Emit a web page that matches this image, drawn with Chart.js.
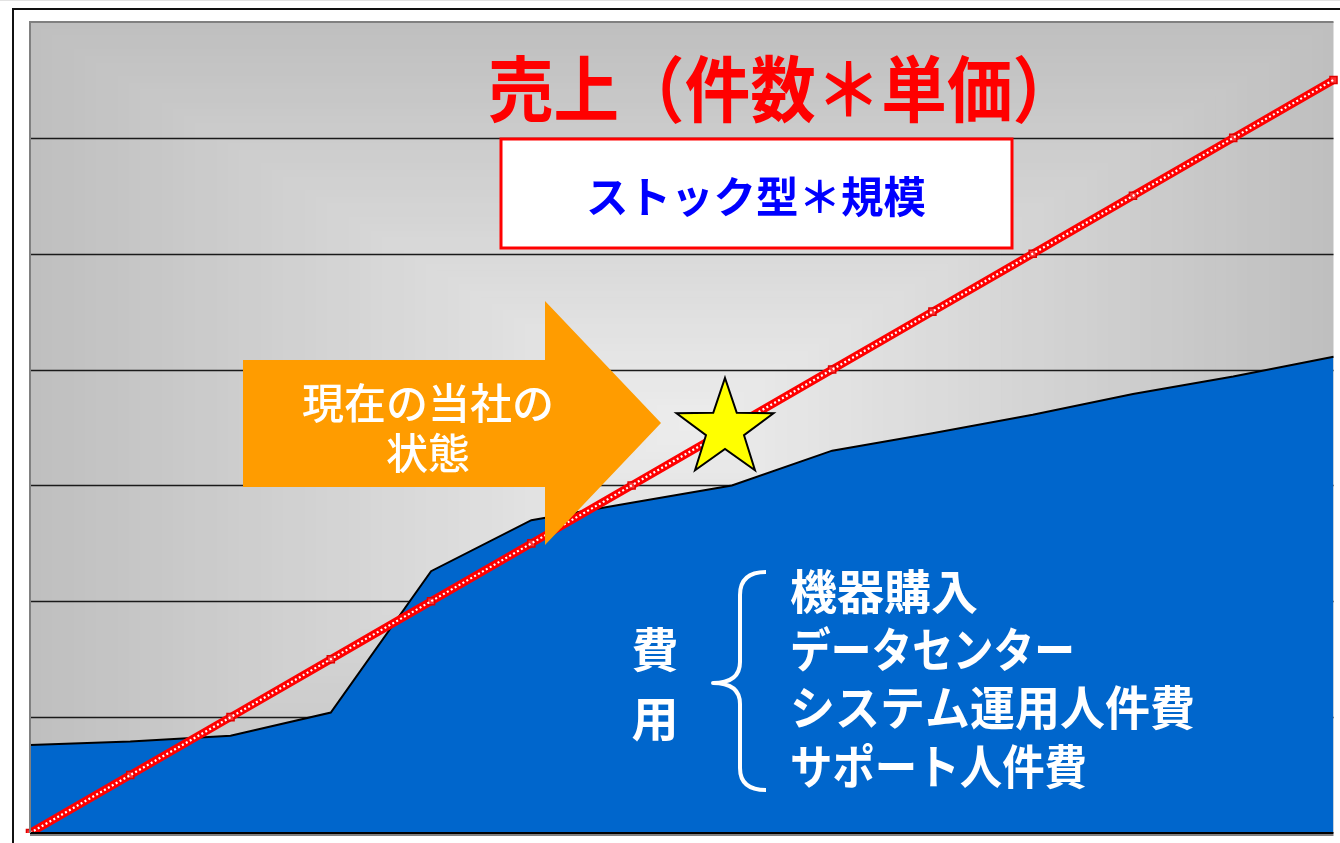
<!DOCTYPE html>
<html><head><meta charset="utf-8">
<script src="https://cdn.jsdelivr.net/npm/chart.js@4/dist/chart.umd.min.js"></script>
<style>html,body{margin:0;padding:0;background:#fff;overflow:hidden}canvas{display:block}</style>
</head><body>
<canvas id="c" width="1340" height="843"></canvas>
<script>
const categories = ['1','2','3','4','5','6','7','8','9','10','11','12','13','14'];
const salesValues = [0, 0.5, 1.0, 1.5, 2.0, 2.5, 3.0, 3.5, 4.0, 4.5, 5.0, 5.5, 6.0, 6.5];
const costValues = [0.76, 0.79, 0.84, 1.04, 2.26, 2.70, 2.85, 3.00, 3.30, 3.45, 3.61, 3.79, 3.94, 4.11];
const yTicks = [0, 1, 2, 3, 4, 5, 6, 7];
const titleText = '売上（件数＊単価）';
const boxText = 'ストック型＊規模';
const arrowLines = ['現在の当社の', '状態'];
const costLabel = ['費', '用'];
const costItems = ['機器購入', 'データセンター', 'システム運用人件費', 'サポート人件費'];

const FONT = '"Noto Sans CJK JP", "Noto Sans", sans-serif';

const bgPlugin = {
  id: 'bg',
  beforeDraw(chart) {
    const { ctx, chartArea: a, width, height } = chart;
    ctx.save();
    ctx.fillStyle = '#ffffff';
    ctx.fillRect(0, 0, width, height);
    ctx.fillStyle = '#e2e2e2';
    ctx.fillRect(0, 0, width, 1);
    const cx = 690, cy = 425;
    const inner = [237, 237, 237], outer = [191, 191, 191];
    const N = 60;
    for (let i = N; i >= 1; i--) {
      const t = i / N;
      const c = inner.map((v, k) => Math.round(v + (outer[k] - v) * t));
      ctx.fillStyle = `rgb(${c[0]},${c[1]},${c[2]})`;
      const l = cx - (cx - a.left) * t, r = cx + (a.right - cx) * t;
      const tp = cy - (cy - a.top) * t, b = cy + (a.bottom - cy) * t;
      ctx.fillRect(l, tp, r - l, b - tp);
    }
    ctx.strokeStyle = '#111';
    ctx.lineWidth = 2;
    ctx.beginPath();
    ctx.moveTo(13, height);
    ctx.lineTo(13, 9);
    ctx.lineTo(width, 9);
    ctx.stroke();
    ctx.restore();
  }
};

const gridPlugin = {
  id: 'grid',
  beforeDatasetsDraw(chart) {
    const { ctx, chartArea: a, scales: { y } } = chart;
    ctx.save();
    ctx.strokeStyle = '#1a1a1a';
    ctx.lineWidth = 1.3;
    yTicks.forEach(v => {
      if (v <= y.min || v >= y.max) return;
      const py = Math.round(y.getPixelForValue(v)) + 0.5;
      ctx.beginPath();
      ctx.moveTo(a.left, py);
      ctx.lineTo(a.right, py);
      ctx.stroke();
    });
    ctx.restore();
  }
};

function star(ctx, cx, cy, R, r) {
  ctx.beginPath();
  for (let i = 0; i < 10; i++) {
    const rad = i % 2 === 0 ? R : r;
    const ang = -Math.PI / 2 + i * Math.PI / 5;
    const x = cx + rad * Math.cos(ang), y = cy + rad * Math.sin(ang);
    if (i === 0) ctx.moveTo(x, y); else ctx.lineTo(x, y);
  }
  ctx.closePath();
}

const annoPlugin = {
  id: 'anno',
  afterDatasetsDraw(chart) {
    const { ctx, chartArea: a } = chart;
    ctx.save();
    ctx.strokeStyle = '#000';
    ctx.lineWidth = 2;
    ctx.beginPath(); ctx.moveTo(a.left, a.bottom); ctx.lineTo(a.right, a.bottom); ctx.stroke();
    ctx.strokeStyle = '#808080';
    ctx.lineWidth = 2;
    ctx.beginPath(); ctx.moveTo(a.right, a.top); ctx.lineTo(a.left, a.top); ctx.lineTo(a.left, a.bottom); ctx.stroke();
    ctx.beginPath(); ctx.moveTo(a.left, a.bottom + 2); ctx.lineTo(a.right, a.bottom + 2); ctx.stroke();

    ctx.textAlign = 'left';
    ctx.textBaseline = 'middle';
    ctx.fillStyle = '#ff0000';
    ctx.font = `bold 72px ${FONT}`;
    ctx.fillText(titleText, 488, 89, 590);

    ctx.textAlign = 'center';
    ctx.fillStyle = '#ffffff';
    ctx.fillRect(501, 139, 511, 109);
    ctx.strokeStyle = '#ff0000';
    ctx.lineWidth = 3;
    ctx.strokeRect(501, 139, 511, 109);
    ctx.fillStyle = '#0000ff';
    ctx.font = `bold 43px ${FONT}`;
    ctx.fillText(boxText, 756, 197, 340);

    ctx.fillStyle = '#ff9c00';
    ctx.beginPath();
    ctx.moveTo(243, 360);
    ctx.lineTo(545, 360);
    ctx.lineTo(545, 301);
    ctx.lineTo(661, 423);
    ctx.lineTo(545, 545);
    ctx.lineTo(545, 487);
    ctx.lineTo(243, 487);
    ctx.closePath();
    ctx.fill();
    ctx.fillStyle = '#ffffff';
    ctx.font = `500 42px ${FONT}`;
    ctx.fillText(arrowLines[0], 428, 403, 252);
    ctx.fillText(arrowLines[1], 428, 453);

    star(ctx, 725, 429, 51, 20);
    ctx.fillStyle = '#ffff00';
    ctx.fill();
    ctx.strokeStyle = '#000';
    ctx.lineWidth = 2;
    ctx.lineJoin = 'miter';
    ctx.stroke();

    ctx.fillStyle = '#ffffff';
    ctx.font = `bold 47px ${FONT}`;
    ctx.fillText(costLabel[0], 655, 649);
    ctx.fillText(costLabel[1], 655, 718);

    ctx.strokeStyle = '#ffffff';
    ctx.lineWidth = 4;
    ctx.lineJoin = 'round';
    ctx.beginPath();
    ctx.moveTo(766, 572);
    ctx.quadraticCurveTo(740, 572, 740, 595);
    ctx.lineTo(740, 662);
    ctx.quadraticCurveTo(740, 683, 713, 683);
    ctx.quadraticCurveTo(740, 683, 740, 704);
    ctx.lineTo(740, 768);
    ctx.quadraticCurveTo(740, 790, 766, 790);
    ctx.stroke();

    ctx.textAlign = 'left';
    ctx.font = `bold 47px ${FONT}`;
    const ys = [591, 649, 707, 766];
    const widths = [190, 285, 405, 297];
    costItems.forEach((t, i) => ctx.fillText(t, 790, ys[i], widths[i]));
    ctx.restore();
  }
};

new Chart(document.getElementById('c'), {
  type: 'line',
  data: {
    labels: categories,
    datasets: [
      { data: salesValues, borderColor: '#ffffff', borderWidth: 2.2, borderDash: [2, 2.5],
        pointRadius: 0, fill: false, tension: 0 },
      { data: salesValues, borderColor: '#ff0000', borderWidth: 8, pointRadius: 5, pointStyle: 'rect',
        pointBackgroundColor: '#ff3030', pointBorderColor: '#e00000', pointBorderWidth: 1.5,
        fill: false, tension: 0 },
      { data: costValues, borderColor: '#000000', borderWidth: 2, backgroundColor: '#0066cc',
        fill: 'origin', pointRadius: 0, tension: 0 }
    ]
  },
  options: {
    responsive: false,
    animation: false,
    events: [],
    devicePixelRatio: 1,
    layout: { padding: { left: 30, top: 22, right: 0, bottom: 10 } },
    plugins: { legend: { display: false }, tooltip: { enabled: false } },
    scales: {
      x: { display: false },
      y: { display: false, min: 0, max: 7 }
    }
  },
  plugins: [bgPlugin, gridPlugin, annoPlugin]
});
</script>
</body></html>
